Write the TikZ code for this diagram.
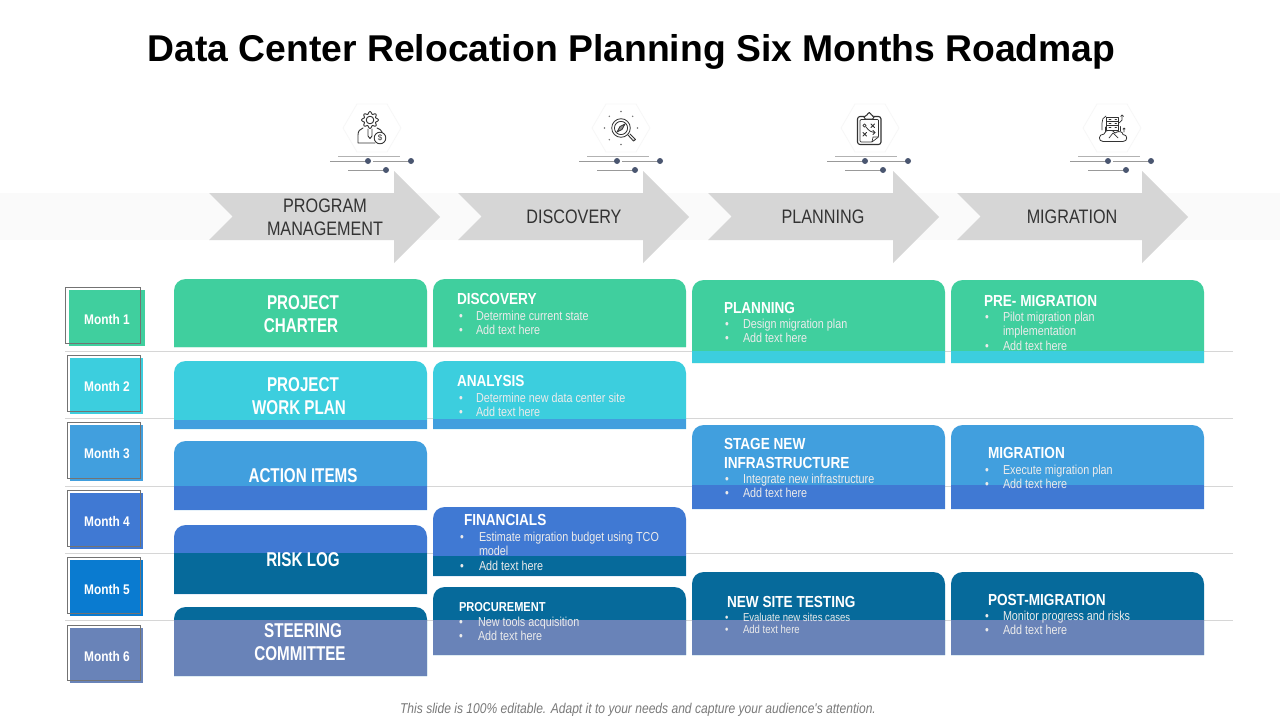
\documentclass[tikz,border=0pt]{standalone}
\usepackage{fontspec}
\setmainfont{Liberation Sans}
\newfontfamily\cond[FakeStretch=0.83]{Liberation Sans}
\newfontfamily\condb[FakeStretch=0.76]{Liberation Sans}
\newfontfamily\condh[FakeStretch=0.85]{Liberation Sans}
\definecolor{cgreen}{HTML}{40CF9E}
\definecolor{ccyan}{HTML}{3CCEDE}
\definecolor{cblue}{HTML}{419FDE}
\definecolor{croyal}{HTML}{4079D3}
\definecolor{cteal}{HTML}{066A9B}
\definecolor{cslate}{HTML}{6983B8}
\definecolor{cmfive}{HTML}{0A7BD0}
\definecolor{cgrey}{HTML}{D6D6D6}
\definecolor{cdot}{HTML}{4A5670}
\definecolor{cink}{HTML}{333333}
\tikzset{
  x=1pt,y=-1pt,
  base/.style={inner sep=0pt,outer sep=0pt,text depth=0pt},
  monthlabel/.style={base,text height=10pt,text=white,font=\condh\bfseries\fontsize{14}{14}\selectfont},
  bigtitle/.style={base,text height=14.4pt,text=white,font=\condb\bfseries\fontsize{20}{20}\selectfont},
  cardhead/.style={base,text height=11.5pt,anchor=west,text=white,font=\condh\bfseries\fontsize{16}{16}\selectfont},
  cardtext/.style={base,text height=9.4pt,anchor=west,text=white!92!black,font=\cond\fontsize{13}{13}\selectfont},
  arrowtext/.style={base,text height=14.4pt,text=cink,font=\cond\fontsize{19.5}{19.5}\selectfont},
  rowline/.style={draw=black!16!white,line width=0.8pt},
  icon/.style={draw=cink,line width=0.9pt,line join=round,line cap=round},
}
\newcommand{\cardshape}[8]{% x0 y0 x1 y1 yband col bandcol
  \fill[#6] ({#1},{#4}) -- ({#1},{#2+12}) .. controls ({#1},{#2+5}) and ({#1+5},{#2}) .. ({#1+12},{#2})
     -- ({#3-12},{#2}) .. controls ({#3-5},{#2}) and ({#3},{#2+5}) .. ({#3},{#2+12}) -- ({#3},{#4}) -- cycle;
  \fill[#7] ({#1},{#5}) rectangle ({#3},{#4});
}
\newcommand{\chevron}[1]{%
  \fill[cgrey] ({#1},193) -- ({#1+23.5},216.5) -- ({#1},240) -- ({#1+185},240) -- ({#1+185},263)
     -- ({#1+231},217) -- ({#1+185},171) -- ({#1+185},193) -- cycle;
}
\newcommand{\hexagonbg}[1]{%
  \draw[black!3!white,line width=0.8pt,fill=white] ({#1-29},128) -- ({#1-15},104) -- ({#1+15},104) -- ({#1+29},128) -- ({#1+15},152) -- ({#1-15},152) -- cycle;
}
\newcommand{\dotgroup}[1]{%
  \draw[black!30!white,line width=0.6pt] ({#1-34},156.3) -- ({#1+28},156.3);
  \draw[black!40!white,line width=0.7pt] ({#1-42},161) -- ({#1-4},161);
  \draw[black!40!white,line width=0.7pt] ({#1+1},161) -- ({#1+39},161);
  \draw[black!40!white,line width=0.7pt] ({#1-24},170) -- ({#1+14},170);
  \fill[cdot] ({#1-4},161) circle (3);
  \fill[cdot] ({#1+39},161) circle (3);
  \fill[cdot] ({#1+14},170) circle (3);
}
\newcommand{\monthbox}[7]{% name fx0 fy0 fx1 fy1 col text
  \fill[#6] ({#2},{#3}) rectangle ({#4},{#5});
  \node[monthlabel] (#1) at (107,{(#3+#5)/2+1}) {#7};
}
\newcommand{\monthout}[4]{\draw[black!55!white,line width=0.7pt] ({#1},{#2}) rectangle ({#3},{#4});}
\newcommand{\bul}[5]{% name xb xt y text
  \node[cardtext] (#1b) at ({#2},{#4}) {•};
  \node[cardtext] (#1t) at ({#3},{#4}) {#5};
}
\begin{document}
\begin{tikzpicture}
\useasboundingbox (0,0) rectangle (1280,720);
\fill[white] (0,0) rectangle (1280,720);

\node[base,text height=26.9pt,text=black,font=\bfseries\fontsize{37.3}{37.3}\selectfont] (title) at (631.5,48) {Data Center Relocation Planning Six Months Roadmap};

% band and chevrons
\fill[black!2!white] (0,193) rectangle (1280,240);
\chevron{209}\chevron{458}\chevron{708}\chevron{957}
\node[arrowtext] (a1a) at (325,205) {PROGRAM};
\node[arrowtext] (a1b) at (325,228) {MANAGEMENT};
\node[arrowtext] (a2) at (574,216) {DISCOVERY};
\node[arrowtext] (a3) at (823,216) {PLANNING};
\node[arrowtext] (a4) at (1072,216) {MIGRATION};

% hexagons and dot lines
\hexagonbg{372}\hexagonbg{621}\hexagonbg{870}\hexagonbg{1112}
\dotgroup{372}\dotgroup{621}\dotgroup{869}\dotgroup{1112}

% icon 1: person, gear, coin
\draw[icon] plot[samples=73,domain=0:360,smooth] ({370+(7.2+1.2*cos(8*\x))*cos(\x)},{120+(7.2+1.2*cos(8*\x))*sin(\x)});
\draw[icon] (370,120) circle (3.8);
\draw[icon] (363,128) .. controls (360,129) and (358,131) .. (358,135) -- (358,143) -- (375,143);
\draw[icon] (377,128) .. controls (380,129) and (381,130) .. (382,132);
\draw[icon] (368,129) -- (368,136) -- (370,138.5) -- (372,136) -- (372,129);
\draw[icon,fill=white] (380,138) circle (5.8);
\node[base,text height=5.8pt,font=\fontsize{8}{8}\selectfont,text=cink] (i1s) at (380,138) {\$};

% icon 2: magnifier with compass
\draw[icon,line width=0.8pt] (621,128) circle (9.3);
\draw[icon,line width=0.8pt] (621,128) circle (6.6);
\draw[icon,line width=0.8pt,fill=cink!55!white] (625,124) -- (622,129.5) -- (617,132) -- (620,126.5) -- cycle;
\draw[icon] (628,135) -- (633.5,141) -- (635.5,139.5) -- (630,134);
\foreach \a in {0,45,90,135,180,225,270,315}{
  \fill[cink!70!white] ({621+16.5*cos(\a)},{128+16.5*sin(\a)}) circle (0.8);
}

% icon 3: clipboard
\draw[icon,line width=1.1pt,rounded corners=2.5pt] (857.5,116.5) rectangle (881,144.5);
\draw[icon,line width=0.7pt,rounded corners=1pt] (860,119.5) -- (878.5,119.5) -- (878.5,137) -- (872,142) -- (860,142) -- cycle;
\draw[icon,line width=0.7pt] (878.5,137) -- (873,137) -- (872,142);
\draw[icon,line width=1pt,fill=white,rounded corners=1.5pt] (864,119) -- (864,116) -- (867,116) -- (868,112.5) -- (870.5,112.5) -- (871.5,116) -- (874,116) -- (874,119) -- cycle;
\draw[icon,line width=0.8pt] (864.5,125.5) circle (1.6);
\draw[icon,line width=0.8pt] (866,127) .. controls (869,131) and (871,132) .. (875,132.5);
\draw[icon,line width=0.8pt] (873,130.5) -- (875,132.5) -- (873,134.5);
\draw[icon,line width=1pt] (871,124) -- (874.5,127.5) (874.5,124) -- (871,127.5);
\draw[icon,line width=1pt] (863,132.5) -- (866.5,136) (866.5,132.5) -- (863,136);

% icon 4: cloud and server
\draw[icon,line width=0.8pt] (1103,141.5) .. controls (1098,141.5) and (1098,134) .. (1104,134)
   .. controls (1105,129) and (1113,129) .. (1115,133) .. controls (1119,130) and (1123,132) .. (1123,134.5)
   .. controls (1128,134.5) and (1128,141.5) .. (1123,141.5) -- cycle;
\draw[icon,line width=0.9pt,fill=white] (1106.5,117.5) rectangle (1118.5,130);
\draw[icon,line width=0.9pt] (1106.5,121.5) -- (1118.5,121.5) (1106.5,125.7) -- (1118.5,125.7);
\draw[icon,line width=0.7pt] (1109,119.5) -- (1111,119.5) (1109,123.6) -- (1111,123.6) (1109,127.8) -- (1111,127.8) (1115,119.5) -- (1116.5,119.5) (1115,123.6) -- (1116.5,123.6) (1115,127.8) -- (1116.5,127.8);
\draw[icon,line width=0.7pt] (1106,116) .. controls (1103,117) and (1102,120) .. (1102,123) -- (1102,130);
\draw[icon,line width=0.7pt] (1119,123) -- (1122,120) -- (1122,115);
\draw[icon,line width=0.7pt] (1120.5,116.5) -- (1122,115) -- (1123.5,116.5);
\draw[icon,line width=0.7pt] (1124,132) -- (1124,128) (1122.8,129.2) -- (1124,128) -- (1125.2,129.2);
\draw[icon,line width=0.7pt] (1120,131) -- (1120,126.5);
\draw[icon,line width=0.7pt] (1105,132) -- (1105,127);
\draw[icon,line width=0.7pt] (1109,138) -- (1113,133) -- (1118,138);

% row lines
\foreach \yy in {351,418,486,553,620}{
  \draw[rowline] (65,\yy) -- (1233,\yy);
}

% month boxes
\monthbox{m1}{69}{290}{145}{346}{cgreen}{Month 1}\monthout{65}{287.7}{140.7}{343.7}
\monthbox{m2}{70}{358}{143}{413.7}{ccyan}{Month 2}\monthout{67.7}{355.3}{140.7}{411.7}
\monthbox{m3}{70}{425}{143}{480.7}{cblue}{Month 3}\monthout{67.7}{422.7}{140.7}{478.7}
\monthbox{m4}{70}{492.7}{143}{548.7}{croyal}{Month 4}\monthout{67.7}{490.3}{140.7}{546.7}
\monthbox{m5}{70}{560}{143}{616}{cmfive}{Month 5}\monthout{67.7}{557.7}{140.7}{613.7}
\monthbox{m6}{70}{627.7}{143}{682.7}{cslate}{Month 6}\monthout{67.7}{625.3}{140.7}{680.7}

% column 1
\cardshape{174}{279}{427}{347}{347}{cgreen}{cgreen}{}
\cardshape{174}{361}{427}{429}{419.7}{ccyan}{cblue}{}
\cardshape{174}{441}{427}{510}{486}{cblue}{croyal}{}
\cardshape{174}{525}{427}{594}{553}{croyal}{cteal}{}
\cardshape{174}{607}{427}{676}{620}{cteal}{cslate}{}
\node[bigtitle] (c1a) at (303,302) {PROJECT};
\node[bigtitle] (c1b) at (301,325) {CHARTER};
\node[bigtitle] (c2a) at (303,384) {PROJECT};
\node[bigtitle] (c2b) at (299,407) {WORK PLAN};
\node[bigtitle] (c3) at (303,475) {ACTION ITEMS};
\node[bigtitle] (c4) at (303,559) {RISK LOG};
\node[bigtitle] (c5a) at (303,630) {STEERING};
\node[bigtitle] (c5b) at (300,653) {COMMITTEE};

% column 2
\cardshape{433}{279}{686}{347}{347}{cgreen}{cgreen}{}
\cardshape{433}{361}{686}{429}{418.5}{ccyan}{cblue}{}
\cardshape{433}{507}{686}{576}{556}{croyal}{cteal}{}
\cardshape{433}{587}{686}{655}{620}{cteal}{cslate}{}
\node[cardhead] (d1) at (457,299) {DISCOVERY};
\bul{d1a}{459}{476}{316}{Determine current state}
\bul{d1c}{459}{476}{330}{Add text here}
\node[cardhead] (d2) at (457,381) {ANALYSIS};
\bul{d2a}{459}{476}{398}{Determine new data center site}
\bul{d2c}{459}{476}{412}{Add text here}
\node[cardhead] (d3) at (464,520) {FINANCIALS};
\bul{d3a}{460}{479}{537}{Estimate migration budget using TCO}
\node[cardtext] (d3b) at (479,551) {model};
\bul{d3c}{460}{479}{566}{Add text here}
\node[cardhead,font=\condh\bfseries\fontsize{13}{13}\selectfont] (d4) at (459,606) {PROCUREMENT};
\bul{d4a}{459}{478}{622}{New tools acquisition}
\bul{d4c}{459}{478}{636}{Add text here}

% column 3
\cardshape{692}{280}{945}{363}{351}{cgreen}{ccyan}{}
\cardshape{692}{425}{945}{509}{485}{cblue}{croyal}{}
\cardshape{692}{572}{945}{655}{620}{cteal}{cslate}{}
\node[cardhead] (e1) at (724,308) {PLANNING};
\bul{e1a}{725}{743}{324}{Design migration plan}
\bul{e1c}{725}{743}{338}{Add text here}
\node[cardhead] (e2a) at (724,444) {STAGE NEW};
\node[cardhead] (e2b) at (724,463) {INFRASTRUCTURE};
\bul{e2c}{725}{743}{479}{Integrate new infrastructure}
\bul{e2d}{725}{743}{493}{Add text here}
\node[cardhead] (e3) at (727,602) {NEW SITE TESTING};
\tikzset{cardtext/.append style={font=\cond\fontsize{11.5}{11.5}\selectfont}}
\bul{e3a}{725}{743}{617}{Evaluate new sites cases}
\bul{e3c}{725}{743}{629}{Add text here}
\tikzset{cardtext/.append style={font=\cond\fontsize{13}{13}\selectfont}}

% column 4
\cardshape{951}{280}{1204}{363}{351}{cgreen}{ccyan}{}
\cardshape{951}{425}{1204}{509}{485}{cblue}{croyal}{}
\cardshape{951}{572}{1204}{655}{620}{cteal}{cslate}{}
\node[cardhead] (f1) at (984,301) {PRE- MIGRATION};
\bul{f1a}{985}{1003}{317}{Pilot migration plan}
\node[cardtext] (f1b) at (1003,331) {implementation};
\bul{f1c}{985}{1003}{346}{Add text here}
\node[cardhead] (f2) at (988,453) {MIGRATION};
\bul{f2a}{985}{1003}{470}{Execute migration plan}
\bul{f2c}{985}{1003}{484}{Add text here}
\node[cardhead] (f3) at (988,600) {POST-MIGRATION};
\bul{f3a}{985}{1003}{616}{Monitor progress and risks}
\bul{f3c}{985}{1003}{630}{Add text here}

% footer
\node[base,text height=10pt,text=black!52!white,font=\condh\itshape\fontsize{14.2}{14.2}\selectfont] (foot) at (638,708) {This slide is 100\% editable. Adapt it to your needs and capture your audience's attention.};
\end{tikzpicture}
\end{document}
